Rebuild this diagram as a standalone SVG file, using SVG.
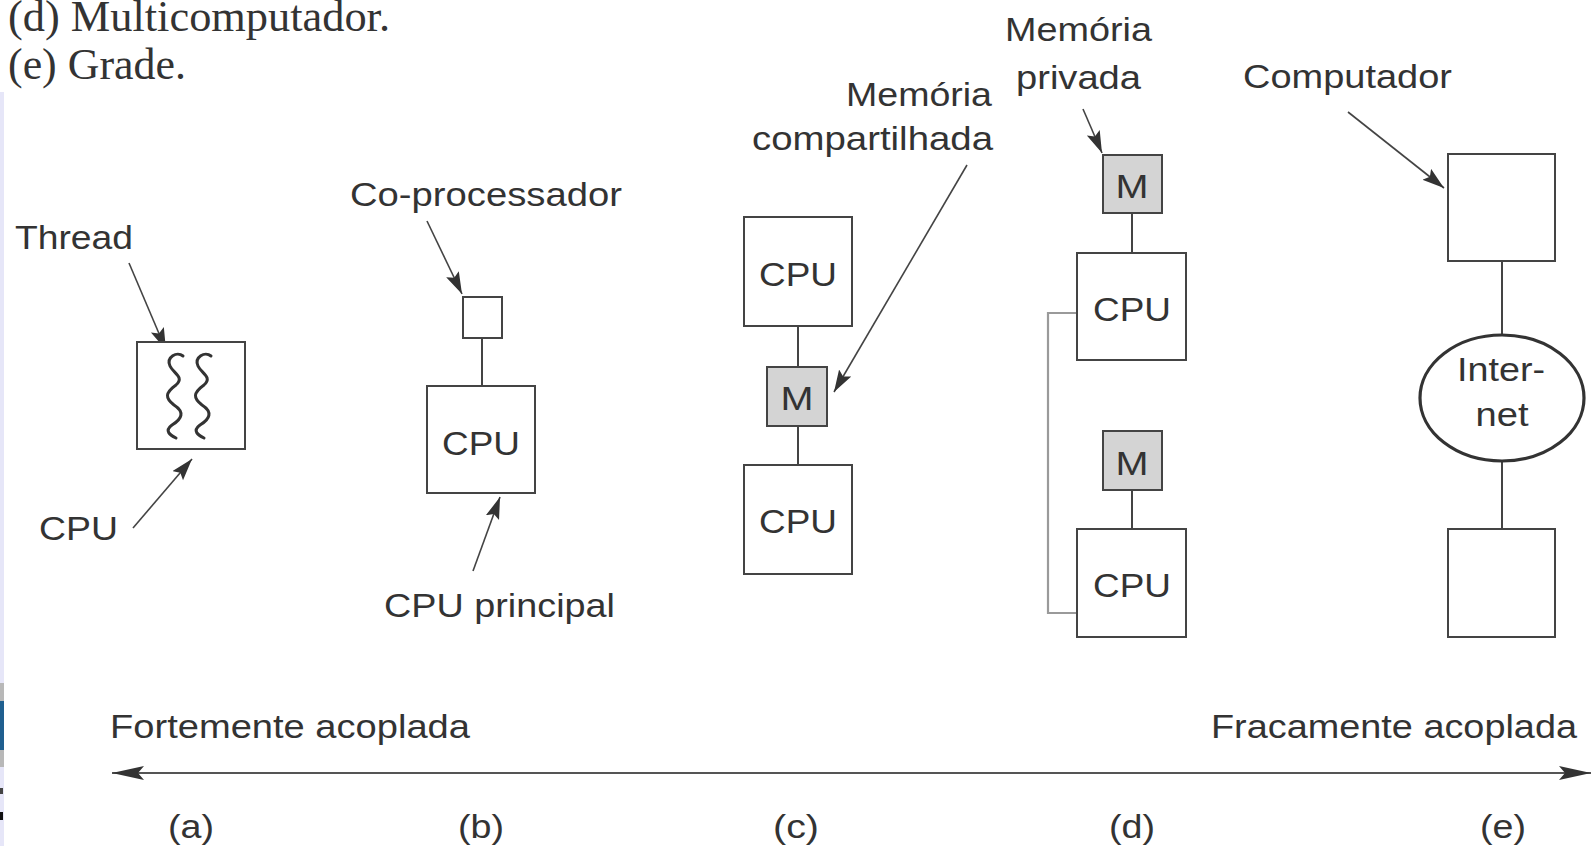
<svg xmlns="http://www.w3.org/2000/svg" width="1592" height="846" viewBox="0 0 1592 846">
<defs>
<style>
.t{font-family:"Liberation Sans",Arial,Helvetica,sans-serif;font-size:33px;fill:#333}
.s{font-family:"Liberation Serif","Times New Roman",serif;font-size:45px;fill:#333}
.m{text-anchor:middle}
.box{fill:#fff;stroke:#444;stroke-width:2}
.mem{fill:#d4d4d4;stroke:#444;stroke-width:2}
.ln{stroke:#444;stroke-width:2;fill:none}
.arr{stroke:#444;stroke-width:1.6;fill:none;marker-end:url(#ah)}
.sq{stroke:#333;stroke-width:3;fill:none;stroke-linecap:round}
</style>
<marker id="ah" markerUnits="userSpaceOnUse" markerWidth="24" markerHeight="16" refX="22" refY="7" orient="auto">
<path d="M0,0 L22,7 L0,14 L4,7 z" fill="#333"/>
</marker>
<marker id="ax" markerUnits="userSpaceOnUse" markerWidth="34" markerHeight="16" refX="32" refY="7" orient="auto-start-reverse">
<path d="M0,0 L32,7 L0,14 L6,7 z" fill="#333"/>
</marker>
</defs>
<rect width="1592" height="846" fill="#fff"/>
<!-- left edge artifacts -->
<rect x="0" y="92" width="4" height="754" fill="#e6e6f8"/>
<rect x="0" y="683" width="4" height="18" fill="#b8b8b8"/>
<rect x="0" y="701" width="4" height="49" fill="#1f5f8f"/>
<rect x="0" y="750" width="4" height="17" fill="#b8b8b8"/>
<rect x="0" y="788" width="3" height="6" fill="#444"/>
<rect x="0" y="812" width="3" height="8" fill="#111"/>

<text class="s" x="8" y="31" textLength="382" lengthAdjust="spacingAndGlyphs">(d) Multicomputador.</text>
<text class="s" x="8" y="79" textLength="178" lengthAdjust="spacingAndGlyphs">(e) Grade.</text>

<g id="connectors">
<line class="arr" x1="129" y1="263" x2="166" y2="350"/>
<line class="arr" x1="133" y1="528" x2="192" y2="459"/>
<line class="arr" x1="427" y1="221" x2="462" y2="294"/>
<line class="arr" x1="473" y1="571" x2="500" y2="497"/>
<line class="arr" x1="967" y1="165" x2="834" y2="392"/>
<line class="arr" x1="1083" y1="109" x2="1102" y2="153"/>
<line class="arr" x1="1348" y1="112" x2="1444" y2="188"/>
<line class="ln" x1="482" y1="338" x2="482" y2="386"/>
<line class="ln" x1="798" y1="326" x2="798" y2="367"/>
<line class="ln" x1="798" y1="426" x2="798" y2="465"/>
<line class="ln" x1="1132" y1="213" x2="1132" y2="253"/>
<line class="ln" x1="1132" y1="490" x2="1132" y2="529"/>
<polyline points="1077,313 1048,313 1048,613 1077,613" fill="none" stroke="#9a9a9a" stroke-width="2.2"/>
<line class="ln" x1="1502" y1="261" x2="1502" y2="335"/>
<line class="ln" x1="1502" y1="462" x2="1502" y2="529"/>
<line x1="112" y1="773" x2="1591" y2="773" stroke="#555" stroke-width="2.2" marker-start="url(#ax)" marker-end="url(#ax)"/>
</g>

<g id="a-cpu">
<rect class="box" x="137" y="342" width="108" height="107"/>
<path class="sq" d="M183 356 C177 351,166 357,170 366 C173 373,185 377,176 385 C165 393,165 398,174 405 C185 412,182 419,172 425 C164 431,170 435,176 438"/>
<path class="sq" transform="translate(28,0)" d="M183 356 C177 351,166 357,170 366 C173 373,185 377,176 385 C165 393,165 398,174 405 C185 412,182 419,172 425 C164 431,170 435,176 438"/>
</g>
<g id="a-labels">
<text class="t" x="15" y="249" textLength="118" lengthAdjust="spacingAndGlyphs">Thread</text>
<text class="t" x="39" y="540" textLength="79" lengthAdjust="spacingAndGlyphs">CPU</text>
</g>

<g id="b-coproc">
<rect class="box" x="463" y="297" width="39" height="41"/>
</g>
<g id="b-cpu">
<rect class="box" x="427" y="386" width="108" height="107"/>
<text class="t m" x="481" y="455" textLength="78" lengthAdjust="spacingAndGlyphs">CPU</text>
</g>
<g id="b-labels">
<text class="t" x="350" y="206" textLength="272" lengthAdjust="spacingAndGlyphs">Co-processador</text>
<text class="t" x="384" y="617" textLength="231" lengthAdjust="spacingAndGlyphs">CPU principal</text>
</g>

<g id="c-cpu1">
<rect class="box" x="744" y="217" width="108" height="109"/>
<text class="t m" x="798" y="286" textLength="78" lengthAdjust="spacingAndGlyphs">CPU</text>
</g>
<g id="c-mem">
<rect class="mem" x="767" y="367" width="60" height="59"/>
<text class="t m" x="797" y="410" textLength="33" lengthAdjust="spacingAndGlyphs">M</text>
</g>
<g id="c-cpu2">
<rect class="box" x="744" y="465" width="108" height="109"/>
<text class="t m" x="798" y="533" textLength="78" lengthAdjust="spacingAndGlyphs">CPU</text>
</g>
<g id="c-labels">
<text class="t" x="846" y="106" textLength="146" lengthAdjust="spacingAndGlyphs">Memória</text>
<text class="t" x="752" y="150" textLength="241" lengthAdjust="spacingAndGlyphs">compartilhada</text>
</g>

<g id="d-mem1">
<rect class="mem" x="1103" y="155" width="59" height="58"/>
<text class="t m" x="1132" y="198" textLength="33" lengthAdjust="spacingAndGlyphs">M</text>
</g>
<g id="d-cpu1">
<rect class="box" x="1077" y="253" width="109" height="107"/>
<text class="t m" x="1132" y="321" textLength="78" lengthAdjust="spacingAndGlyphs">CPU</text>
</g>
<g id="d-mem2">
<rect class="mem" x="1103" y="431" width="59" height="59"/>
<text class="t m" x="1132" y="475" textLength="33" lengthAdjust="spacingAndGlyphs">M</text>
</g>
<g id="d-cpu2">
<rect class="box" x="1077" y="529" width="109" height="108"/>
<text class="t m" x="1132" y="597" textLength="78" lengthAdjust="spacingAndGlyphs">CPU</text>
</g>
<g id="d-labels">
<text class="t" x="1005" y="41" textLength="147" lengthAdjust="spacingAndGlyphs">Memória</text>
<text class="t" x="1016" y="89" textLength="125" lengthAdjust="spacingAndGlyphs">privada</text>
</g>

<g id="e-comp1">
<rect class="box" x="1448" y="154" width="107" height="107"/>
</g>
<g id="e-internet">
<ellipse cx="1502" cy="398" rx="82" ry="63" fill="#fff" stroke="#333" stroke-width="3.2"/>
<text class="t m" x="1501" y="381" textLength="88" lengthAdjust="spacingAndGlyphs">Inter-</text>
<text class="t m" x="1502" y="426" textLength="53" lengthAdjust="spacingAndGlyphs">net</text>
</g>
<g id="e-comp2">
<rect class="box" x="1448" y="529" width="107" height="108"/>
</g>
<g id="e-labels">
<text class="t" x="1243" y="88" textLength="209" lengthAdjust="spacingAndGlyphs">Computador</text>
</g>

<g id="axis-labels">
<text class="t" x="110" y="738" textLength="360" lengthAdjust="spacingAndGlyphs">Fortemente acoplada</text>
<text class="t" x="1211" y="738" textLength="366" lengthAdjust="spacingAndGlyphs">Fracamente acoplada</text>
<text class="t m" x="191" y="838" textLength="46" lengthAdjust="spacingAndGlyphs">(a)</text>
<text class="t m" x="481" y="838" textLength="46" lengthAdjust="spacingAndGlyphs">(b)</text>
<text class="t m" x="796" y="838" textLength="46" lengthAdjust="spacingAndGlyphs">(c)</text>
<text class="t m" x="1132" y="838" textLength="46" lengthAdjust="spacingAndGlyphs">(d)</text>
<text class="t m" x="1503" y="838" textLength="46" lengthAdjust="spacingAndGlyphs">(e)</text>
</g>
</svg>
